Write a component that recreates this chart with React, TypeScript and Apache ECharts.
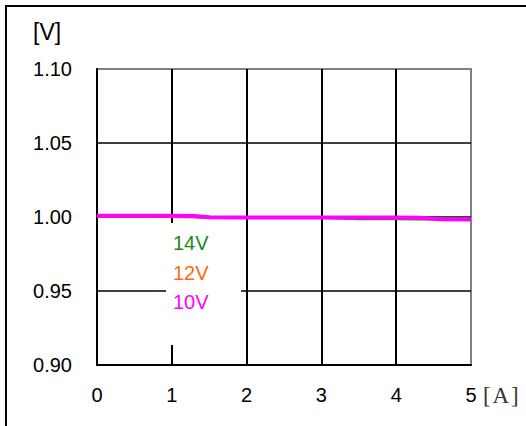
import React, { useEffect, useRef } from "react";
import * as echarts from "echarts";

const currentA = [0, 0.5, 1, 1.3, 1.5, 2, 2.5, 3, 3.5, 4, 4.3, 4.6, 5];
const v14 = [1.0007, 1.0007, 1.0005, 1.0003, 0.9998, 0.9997, 0.9997, 0.9996, 0.9989, 0.9988, 0.9987, 0.9986, 0.9985];
const v12 = [1.0007, 1.0007, 1.0004, 1.0, 0.9996, 0.9997, 0.9997, 0.9997, 0.9996, 0.9995, 0.9994, 0.9985, 0.9984];
const v10 = [1.0008, 1.0008, 1.0008, 1.0007, 0.9998, 0.9997, 0.9997, 0.9997, 0.9997, 0.9996, 0.9995, 0.9985, 0.9983];
const seriesNames = ["14V", "12V", "10V"];
const seriesColors = ["#1a8a1a", "#ff6a10", "#ff00ff"];
const yTicks = [0.9, 0.95, 1.0, 1.05, 1.1];

export default function App() {
  const ref = useRef<HTMLDivElement>(null);
  useEffect(() => {
    if (!ref.current) return;
    const chart = echarts.init(ref.current, null, { renderer: "svg" });
    const all = [v14, v12, v10];
    chart.setOption({
      animation: false,
      backgroundColor: "#fff",
      grid: {
        left: 97,
        right: 55,
        top: 69,
        bottom: 61,
        show: true,
        borderColor: "#808080",
        borderWidth: 2,
      },
      xAxis: {
        type: "value",
        min: 0,
        max: 5,
        interval: 1,
        axisLine: { show: true, lineStyle: { color: "#000", width: 2 } },
        axisTick: { show: false },
        axisLabel: {
          margin: 20,
          color: "#000",
          fontSize: 20,
          fontFamily: "Liberation Sans, Arial, sans-serif",
        },
        splitLine: {
          show: true,
          showMinLine: false,
          showMaxLine: false,
          lineStyle: { color: "#000", width: 2 },
        },
      },
      yAxis: {
        type: "value",
        min: yTicks[0],
        max: yTicks[yTicks.length - 1],
        interval: 0.05,
        axisLine: { show: true, lineStyle: { color: "#000", width: 2 } },
        axisTick: { show: false },
        axisLabel: {
          margin: 25,
          color: "#000",
          fontSize: 20,
          fontFamily: "Liberation Sans, Arial, sans-serif",
          formatter: (v: number) => v.toFixed(2),
        },
        splitLine: {
          show: true,
          showMinLine: false,
          showMaxLine: false,
          lineStyle: { color: "#000", width: 1.5 },
        },
      },
      series: all.map((vals, i) => ({
        type: "line",
        name: seriesNames[i],
        data: currentA.map((x, j) => [x, vals[j]]),
        showSymbol: false,
        symbol: "none",
        lineStyle: { color: seriesColors[i], width: i === 2 ? 4 : 3 },
        z: 3 + i,
      })),
      graphic: [
        {
          type: "rect",
          shape: { x: 6, y: 6, width: 560, height: 460 },
          style: { fill: "none", stroke: "#000", lineWidth: 2 },
          z: 100,
        },
        {
          type: "rect",
          shape: { x: 166, y: 223, width: 75, height: 122 },
          style: { fill: "#fff" },
          z: 100,
        },
        ...seriesNames.map((n, i) => ({
          type: "text",
          x: 173,
          y: 243 + i * 29.5,
          style: {
            text: n,
            fill: seriesColors[i],
            fontSize: 20,
            fontFamily: "Liberation Sans, Arial, sans-serif",
            verticalAlign: "middle",
          },
          z: 101,
        })),
        {
          type: "text",
          x: 33,
          y: 32,
          style: {
            text: "[V]",
            fill: "#000",
            fontSize: 23,
            fontFamily: "Liberation Sans, Arial, sans-serif",
            verticalAlign: "middle",
          },
          z: 101,
        },
        {
          type: "text",
          x: 483,
          y: 395,
          style: {
            text: "[\u200AA\u200A]",
            fill: "#333",
            fontSize: 23,
            fontFamily: "Liberation Serif, DejaVu Serif, serif",
            verticalAlign: "middle",
          },
          z: 101,
        },
      ],
    });
    return () => chart.dispose();
  }, []);
  return (
    <div
      ref={ref}
      style={{ position: "fixed", left: 0, top: 0, width: 526, height: 426 }}
    />
  );
}
